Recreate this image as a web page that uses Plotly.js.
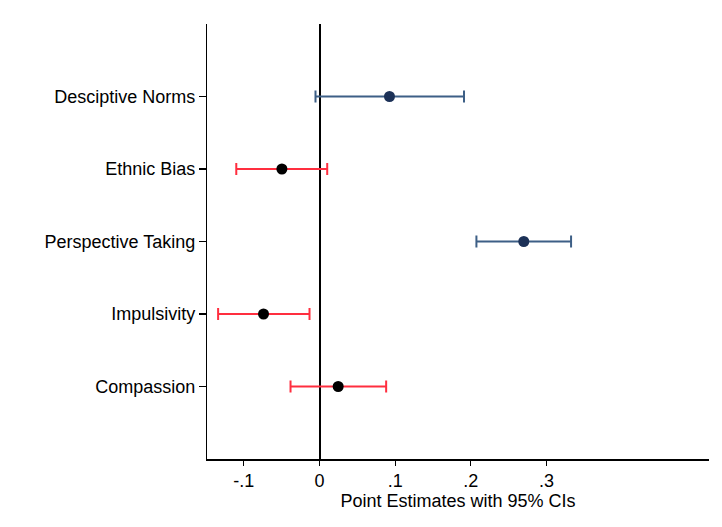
<!DOCTYPE html>
<html>
<head>
<meta charset="utf-8">
<script src="https://cdn.plot.ly/plotly-3.0.1.min.js"></script>
<style>html,body{margin:0;padding:0;background:#fff;}#chart{width:722px;height:527px;}</style>
</head>
<body>
<div id="chart"></div>
<script>
// Data
const categories = ["Desciptive Norms", "Ethnic Bias", "Perspective Taking", "Impulsivity", "Compassion"];
const estimates  = [0.0925, -0.0497, 0.270, -0.074, 0.0247];
const lowerCI    = [-0.0053, -0.110, 0.2074, -0.134, -0.0383];
const upperCI    = [0.191, 0.0102, 0.3325, -0.0132, 0.0881];
const groups     = ["blue", "red", "blue", "red", "red"];
const xTickVals  = [-0.1, 0, 0.1, 0.2, 0.3];
const xTickText  = ["-.1", "0", ".1", ".2", ".3"];
const xTitle     = "Point Estimates with 95% CIs";

const styles = {
  blue: {marker: "#1c3157", line: "#3d5f86"},
  red:  {marker: "#000000", line: "#ff2e3f"}
};

function buildTrace(g) {
  const idx = categories.map((c, i) => i).filter(i => groups[i] === g);
  return {
    type: "scatter",
    mode: "markers",
    x: idx.map(i => estimates[i]),
    y: idx.map(i => categories[i]),
    marker: {color: styles[g].marker, size: 11},
    error_x: {
      type: "data",
      symmetric: false,
      array: idx.map(i => upperCI[i] - estimates[i]),
      arrayminus: idx.map(i => estimates[i] - lowerCI[i]),
      color: styles[g].line,
      thickness: 2,
      width: 6
    },
    hoverinfo: "skip",
    showlegend: false
  };
}

const data = [buildTrace("blue"), buildTrace("red")];

const layout = {
  width: 722,
  height: 527,
  paper_bgcolor: "#ffffff",
  plot_bgcolor: "#ffffff",
  margin: {l: 207, r: 13, t: 24, b: 68},
  font: {family: "Liberation Sans, Arial, sans-serif", size: 18, color: "#000"},
  xaxis: {
    range: [-0.1487, 0.5148],
    tickvals: xTickVals,
    ticktext: xTickText,
    ticks: "outside",
    ticklen: 5,
    tickwidth: 1.2,
    tickcolor: "#000",
    showgrid: false,
    zeroline: true,
    zerolinecolor: "#000",
    zerolinewidth: 2,
    showline: true,
    linecolor: "#000",
    linewidth: 1.5,
    tickfont: {size: 18},
    title: {text: xTitle, font: {size: 18}, standoff: 0},
    automargin: false,
    fixedrange: true
  },
  yaxis: {
    type: "category",
    categoryorder: "array",
    categoryarray: categories.slice().reverse(),
    range: [-1, 5],
    ticks: "outside",
    ticklen: 7,
    tickwidth: 1.2,
    tickcolor: "#000",
    showgrid: false,
    zeroline: false,
    showline: true,
    linecolor: "#000",
    linewidth: 1.2,
    tickfont: {size: 18},
    automargin: false,
    fixedrange: true
  }
};

Plotly.newPlot("chart", data, layout, {displayModeBar: false, staticPlot: true});
</script>
</body>
</html>
